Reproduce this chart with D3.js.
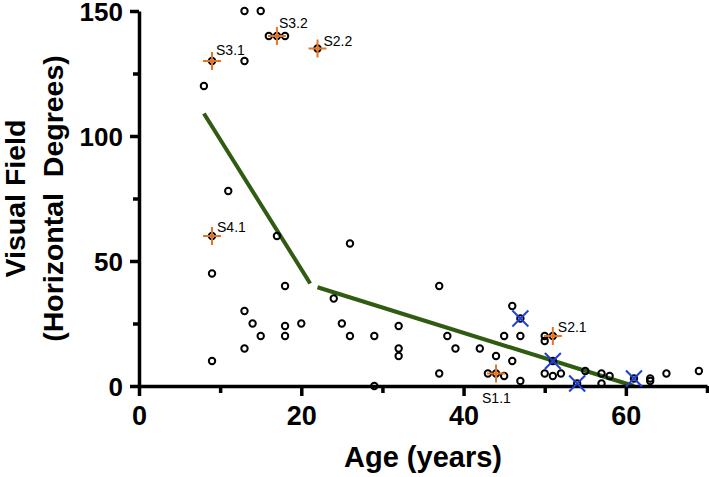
<!DOCTYPE html>
<html>
<head>
<meta charset="utf-8">
<script src="https://cdn.jsdelivr.net/npm/d3@7"></script>
<style>
  html, body { margin: 0; padding: 0; background: #fff; }
  svg { display: block; }
</style>
</head>
<body>
<svg id="chart" width="709" height="477"></svg>
<script>
// ---------- DATA ----------
const ages = [13,15,16,17,18,22,9,13,8,11,9,17,26,9,18,37,24,46,13,47,14,20,25,18,32,
              15,18,26,29,38,45,47,50,51,50,32,39,42,13,32,44,9,46,51,55,69,
              37,43,44,50,52,57,65,45,51,58,61,63,47,63,54,57,29];
const fields = [150,150,140,140,140,135,130,130,120,78,60,60,57,45,40,40,35,32,30,27,25,25,25,24,24,
                20,20,20,20,20,20,20,20,20,18,15,15,15,15,12,12,10,10,10,6,6,
                5,5,5,5,5,5,5,4,4,4,3,3,2,2,1,1,0];

const labeledNames = ["S3.1","S3.2","S2.2","S4.1","S2.1","S1.1"];
const labeledAges  = [9, 17, 22, 9, 51, 44];
const labeledFields= [130, 140, 135, 60, 20, 5];

const crossAges   = [47, 51, 54, 61];
const crossFields = [27, 10, 1, 3];

const fitSeg1Ages   = [8, 21.1];
const fitSeg1Fields = [109, 41];
const fitSeg2Ages   = [22, 61];
const fitSeg2Fields = [39.5, 0];

const xMajorTicks = [0, 20, 40, 60];
const xMinorTicks = [10, 30, 50, 70];
const yMajorTicks = [0, 50, 100, 150];
const yMinorTicks = [25, 75, 125];

const xTitle = "Age (years)";
const yTitle1 = "Visual Field";
const yTitle2 = "(Horizontal\u00A0 Degrees)";

// ---------- STYLE ----------
const FONT = "'Liberation Sans', Arial, Helvetica, sans-serif";
const ORANGE = "#e8731e";
const BLUE = "#1f3fd6";
const GREEN = "#2f5c10";
// label offsets in px relative to marker
const labelOffsets = [[4,-6],[2,-8],[6,-3],[5,-4],[5,-4],[-14,29]];

const svg = d3.select("#chart");
const x = d3.scaleLinear().domain([0, 70]).range([139, 707]);
const y = d3.scaleLinear().domain([0, 150]).range([386, 11]);

// ---------- FIT LINES ----------
const line = d3.line().x(d => x(d[0])).y(d => y(d[1]));
[[fitSeg1Ages, fitSeg1Fields], [fitSeg2Ages, fitSeg2Fields]].forEach(([a, f]) => {
  svg.append("path")
    .attr("d", line(a.map((v, i) => [v, f[i]])))
    .attr("fill", "none")
    .attr("stroke", GREEN)
    .attr("stroke-width", 4);
});

// ---------- AXES ----------
function styleAxis(g, sw) {
  g.select(".domain").attr("stroke", "#000").attr("stroke-width", sw);
  g.selectAll(".tick line").attr("stroke", "#000").attr("stroke-width", sw);
}
const yAxisG = svg.append("g").attr("transform", `translate(${x(0)},0)`)
  .call(d3.axisLeft(y).tickValues(yMajorTicks).tickSize(9).tickSizeOuter(0).tickFormat(d3.format("d")));
styleAxis(yAxisG, 3.5);
yAxisG.selectAll(".tick text")
  .attr("x", -16).attr("dy", "0.36em")
  .attr("font-family", FONT).attr("font-weight", "bold").attr("font-size", 26).attr("fill", "#000");
const yMinorG = svg.append("g").attr("transform", `translate(${x(0)},0)`)
  .call(d3.axisLeft(y).tickValues(yMinorTicks).tickSize(6).tickSizeOuter(0).tickFormat(""));
yMinorG.select(".domain").remove();
styleAxis(yMinorG, 3.5);

const xAxisG = svg.append("g").attr("transform", `translate(0,${y(0)})`)
  .call(d3.axisBottom(x).tickValues(xMajorTicks).tickSize(10).tickSizeOuter(0).tickFormat(d3.format("d")));
styleAxis(xAxisG, 3.5);
xAxisG.selectAll(".tick text")
  .attr("y", 39).attr("dy", 0)
  .attr("font-family", FONT).attr("font-weight", "bold").attr("font-size", 27).attr("fill", "#000");
const xMinorG = svg.append("g").attr("transform", `translate(0,${y(0)})`)
  .call(d3.axisBottom(x).tickValues(xMinorTicks).tickSize(7).tickSizeOuter(0).tickFormat(""));
xMinorG.select(".domain").remove();
styleAxis(xMinorG, 3.5);

// ---------- TITLES ----------
svg.append("text")
  .attr("x", (x(0) + x(70)) / 2).attr("y", 467)
  .attr("text-anchor", "middle")
  .attr("font-family", FONT).attr("font-weight", "bold").attr("font-size", 29)
  .text(xTitle);
const yc = (y(0) + y(150)) / 2;
svg.append("text")
  .attr("transform", `translate(25,${yc}) rotate(-90)`)
  .attr("text-anchor", "middle")
  .attr("font-family", FONT).attr("font-weight", "bold").attr("font-size", 28.5)
  .text(yTitle1);
svg.append("text")
  .attr("transform", `translate(63,${yc}) rotate(-90)`)
  .attr("text-anchor", "middle")
  .attr("font-family", FONT).attr("font-weight", "bold").attr("font-size", 28.5)
  .text(yTitle2);

// ---------- POINTS ----------
svg.append("g").selectAll("circle")
  .data(ages.map((a, i) => [a, fields[i]]))
  .join("circle")
  .attr("cx", d => x(d[0])).attr("cy", d => y(d[1]))
  .attr("r", 3.2)
  .attr("fill", "none").attr("stroke", "#000").attr("stroke-width", 2);

// orange plus markers
const plusG = svg.append("g");
labeledAges.forEach((a, i) => {
  const cx = x(a), cy = y(labeledFields[i]);
  plusG.append("line").attr("x1", cx - 9).attr("x2", cx + 9).attr("y1", cy).attr("y2", cy)
    .attr("stroke", ORANGE).attr("stroke-width", 2);
  plusG.append("line").attr("x1", cx).attr("x2", cx).attr("y1", cy - 9).attr("y2", cy + 9)
    .attr("stroke", ORANGE).attr("stroke-width", 2);
  plusG.append("text")
    .attr("x", cx + labelOffsets[i][0]).attr("y", cy + labelOffsets[i][1])
    .attr("font-family", FONT).attr("font-size", 14).attr("fill", "#000")
    .text(labeledNames[i]);
});

// blue X markers
const xG = svg.append("g");
crossAges.forEach((a, i) => {
  const cx = x(a), cy = y(crossFields[i]);
  xG.append("line").attr("x1", cx - 8).attr("x2", cx + 8).attr("y1", cy - 8).attr("y2", cy + 8)
    .attr("stroke", BLUE).attr("stroke-width", 2);
  xG.append("line").attr("x1", cx - 8).attr("x2", cx + 8).attr("y1", cy + 8).attr("y2", cy - 8)
    .attr("stroke", BLUE).attr("stroke-width", 2);
});
</script>
</body>
</html>
